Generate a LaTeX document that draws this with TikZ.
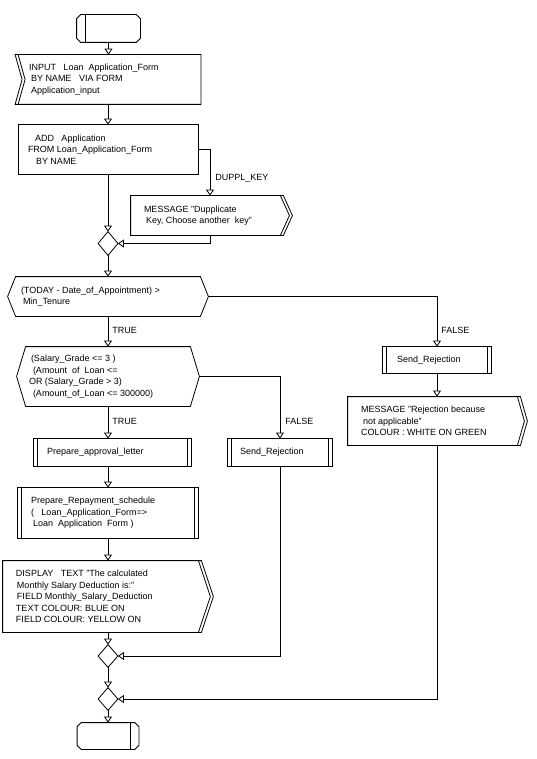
\documentclass[tikz,border=0pt]{standalone}
\usepackage{fontspec}
\setmainfont{Liberation Sans}
\usetikzlibrary{arrows.meta}
\begin{document}
\begin{tikzpicture}[x=1pt,y=-1pt,line width=0.8pt,
  every node/.style={font=\fontsize{9}{11.5}\selectfont,inner sep=0pt},
  sh/.style 2 args={draw=none,minimum width=#1,minimum height=#2,inner sep=0pt},
  txt/.style={anchor=west,align=left,inner sep=0pt},
  lbl/.style={anchor=west,inner sep=0pt},
  arr/.style={-{Triangle[open,width=8pt,length=6pt]}}]
\useasboundingbox[fill=white] (0,0) rectangle (537,759);

% shapes (named nodes)
\node[sh={63pt}{27pt}] (start) at (108.5,28.5) {};
\node[sh={185pt}{49pt}] (input) at (108,79.5) {};
\node[sh={179pt}{49pt}] (add) at (108,149.5) {};
\node[sh={152pt}{39pt}] (msg1) at (207,215.5) {};
\node[sh={19pt}{23pt}] (m1) at (108,243.5) {};
\node[sh={200pt}{39pt}] (dec1) at (108,296.5) {};
\node[sh={182pt}{59pt}] (dec2) at (108,376.5) {};
\node[sh={108pt}{26pt}] (sr1) at (437,360) {};
\node[sh={172pt}{48pt}] (msg2) at (434,421) {};
\node[sh={157pt}{27pt}] (appr) at (112.5,452.5) {};
\node[sh={104pt}{27pt}] (sr2) at (280,452.5) {};
\node[sh={180pt}{50pt}] (repay) at (108,513) {};
\node[sh={198pt}{71pt}] (disp) at (102,596.5) {};
\node[sh={19pt}{22pt}] (m2) at (108,656) {};
\node[sh={19pt}{22pt}] (m3) at (108,699) {};
\node[sh={61pt}{26pt}] (end) at (108,736) {};

% outlines
% start terminal
\draw ([xshift=4pt]start.north west) -- ([xshift=-4pt]start.north east) -- ([yshift=-4pt]start.north east) -- ([yshift=4pt]start.south east) -- ([xshift=-4pt]start.south east) -- ([xshift=4pt]start.south west) -- ([yshift=4pt]start.south west) -- ([yshift=-4pt]start.north west) -- cycle;
\draw ([xshift=9pt]start.north west) -- ([xshift=9pt]start.south west);
% end terminal
\draw ([xshift=4pt]end.north west) -- ([xshift=-4pt]end.north east) -- ([yshift=-4pt]end.north east) -- ([yshift=4pt]end.south east) -- ([xshift=-4pt]end.south east) -- ([xshift=4pt]end.south west) -- ([yshift=4pt]end.south west) -- ([yshift=-4pt]end.north west) -- cycle;
\draw ([xshift=-8.5pt]end.north east) -- ([xshift=-8.5pt]end.south east);
% input
\draw (input.north west) -- (input.north east) -- (input.south east) -- (input.south west) -- ([xshift=7pt]input.west) -- cycle;
\draw ([xshift=3pt]input.north west) -- ([xshift=10pt]input.west) -- ([xshift=3pt]input.south west);
% add
\draw (add.north west) rectangle (add.south east);
% message 1
\draw ([xshift=9pt]msg1.east) -- (msg1.north east) -- (msg1.north west) -- (msg1.south west) -- (msg1.south east) -- cycle;
\draw ([xshift=-3pt]msg1.north east) -- ([xshift=6pt]msg1.east) -- ([xshift=-3pt]msg1.south east);
% message 2
\draw ([xshift=7pt]msg2.east) -- (msg2.north east) -- (msg2.north west) -- (msg2.south west) -- (msg2.south east) -- cycle;
\draw ([xshift=-3pt]msg2.north east) -- ([xshift=4pt]msg2.east) -- ([xshift=-3pt]msg2.south east);
% display
\draw ([xshift=12pt]disp.east) -- (disp.north east) -- (disp.north west) -- (disp.south west) -- (disp.south east) -- cycle;
\draw ([xshift=-3pt]disp.north east) -- ([xshift=9pt]disp.east) -- ([xshift=-3pt]disp.south east);
% decisions
\draw (dec1.west) -- ([xshift=8pt]dec1.north west) -- ([xshift=-8pt]dec1.north east) -- (dec1.east) -- ([xshift=-8pt]dec1.south east) -- ([xshift=8pt]dec1.south west) -- cycle;
\draw (dec2.west) -- ([xshift=9pt]dec2.north west) -- ([xshift=-9pt]dec2.north east) -- (dec2.east) -- ([xshift=-9pt]dec2.south east) -- ([xshift=9pt]dec2.south west) -- cycle;
% predefined processes
\foreach \n in {sr1,sr2,appr,repay}{
  \draw (\n.north west) rectangle (\n.south east);
  \draw ([xshift=4pt]\n.north west) -- ([xshift=4pt]\n.south west);
  \draw ([xshift=-4pt]\n.north east) -- ([xshift=-4pt]\n.south east);
}
% merge diamonds
\foreach \n in {m1,m2,m3}{
  \draw (\n.north) -- (\n.east) -- (\n.south) -- (\n.west) -- cycle;
}

% texts
\node[txt] (inputT) at ([xshift=13.5pt]input.west) {INPUT\ \ \ Loan\ \ Application\_Form\\\hspace*{2pt}BY NAME\ \ \ VIA FORM\\\hspace*{2pt}Application\_input};
\node[txt] (addT) at ([xshift=9.5pt]add.west) {\hspace*{7pt}ADD\ \ \ Application\\FROM Loan\_Application\_Form\\\hspace*{8pt}BY NAME};
\node[txt] (msg1T) at ([xshift=13pt]msg1.west) {MESSAGE "Dupplicate\\\hspace*{2pt}Key, Choose another\ \ key"};
\node[txt] (dec1T) at ([xshift=13pt]dec1.west) {(TODAY - Date\_of\_Appointment) >\\\hspace*{2pt}Min\_Tenure};
\node[txt] (dec2T) at ([xshift=12pt]dec2.west) {\hspace*{2pt}(Salary\_Grade <= 3 )\\\hspace*{4pt}(Amount\ \ of\ \ Loan <=\\OR (Salary\_Grade > 3)\\\hspace*{4pt}(Amount\_of\_Loan <= 300000)};
\node[txt] (sr1T) at ([xshift=14pt]sr1.west) {Send\_Rejection};
\node[txt] (msg2T) at ([xshift=13pt]msg2.west) {MESSAGE "Rejection because\\\hspace*{2pt}not applicable"\\COLOUR : WHITE ON GREEN};
\node[txt] (apprT) at ([xshift=13pt]appr.west) {Prepare\_approval\_letter};
\node[txt] (sr2T) at ([xshift=12pt]sr2.west) {Send\_Rejection};
\node[txt] (repayT) at ([xshift=13pt]repay.west) {Prepare\_Repayment\_schedule\\(\ \ \ Loan\_Application\_Form=>\\\hspace*{2pt}Loan\ \ Application\ \ Form )};
\node[txt] (dispT) at ([xshift=13pt]disp.west) {DISPLAY\ \ \ TEXT "The calculated\\\hspace*{1pt}Monthly Salary Deduction is:"\\\hspace*{1pt}FIELD Monthly\_Salary\_Deduction\\TEXT COLOUR: BLUE ON\\FIELD COLOUR: YELLOW ON};

% connectors
\draw[arr] (start.south) -- (start.south |- input.north);
\draw[arr] (input.south) -- (add.north);
\draw[arr] (add.south) -- (m1.north);
\draw[arr] (add.east) -| ([xshift=3pt]msg1.north);
\draw[arr] ([xshift=3pt]msg1.south) |- (m1.east);
\draw[arr] (m1.south) -- (dec1.north);
\draw[arr] (dec1.south) -- (dec2.north);
\draw[arr] (dec1.east) -| (sr1.north);
\draw[arr] (sr1.south) -- (sr1.south |- msg2.north);
\draw[arr] (msg2.south -| sr1.south) |- (m3.east);
\draw[arr] (dec2.east) -| (sr2.north);
\draw[arr] (dec2.south) -- (dec2.south |- appr.north);
\draw[arr] (appr.south -| repay.north) -- (repay.north);
\draw[arr] (repay.south) -- (repay.south |- disp.north);
\draw[arr] (disp.south -| m2.north) -- (m2.north);
\draw[arr] (sr2.south) |- (m2.east);
\draw[arr] (m2.south) -- (m3.north);
\draw[arr] (m3.south) -- (end.north);

% connector labels
\node[lbl] (lduppl) at (215,178) {DUPPL\_KEY};
\node[lbl] (ltrue1) at (112,330) {TRUE};
\node[lbl] (lfalse1) at (441,330) {FALSE};
\node[lbl] (ltrue2) at (112,421) {TRUE};
\node[lbl] (lfalse2) at (285,421) {FALSE};
\end{tikzpicture}
\end{document}
